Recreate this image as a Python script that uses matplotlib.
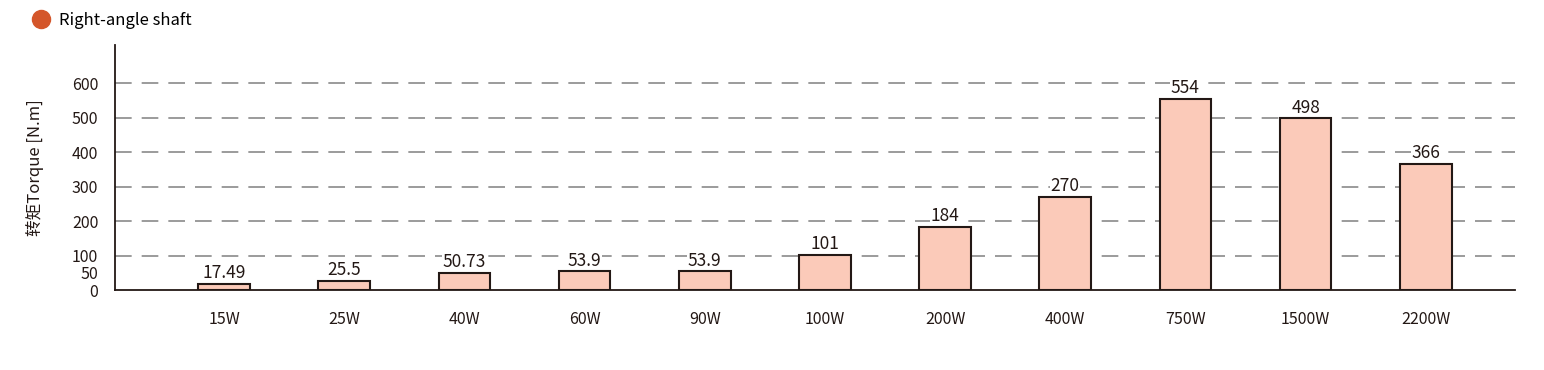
import matplotlib
matplotlib.use("Agg")
import matplotlib.pyplot as plt
from matplotlib.lines import Line2D

# Données du graphique
puissances = ["15W", "25W", "40W", "60W", "90W", "100W", "200W", "400W", "750W", "1500W", "2200W"]
couples = [17.49, 25.5, 50.73, 53.9, 53.9, 101, 184, 270, 554, 498, 366]
etiquettes = ["17.49", "25.5", "50.73", "53.9", "53.9", "101", "184", "270", "554", "498", "366"]
graduations_y = [0, 50, 100, 200, 300, 400, 500, 600]
grille_y = [100, 200, 300, 400, 500, 600]

plt.rcParams["font.family"] = ["Noto Sans CJK SC", "DejaVu Sans"]

fig = plt.figure(figsize=(15.44, 3.70), dpi=100)
ax = fig.add_axes([0.0745, 0.2162, 0.9065, 0.6618])

x = range(len(puissances))
ax.bar(x, couples, width=0.43, color="#fbcab9", edgecolor="#231815", linewidth=1.5, zorder=3)

# étiquettes sous les barres (zorder) mais au-dessus de la grille
for xi, v, t in zip(x, couples, etiquettes):
    ax.text(xi, v + 5, t, ha="center", va="bottom", fontsize=12.5, color="#231815", zorder=2,
            bbox=dict(facecolor="white", edgecolor="none", pad=0.5))

for g in grille_y:
    ax.axhline(g, color="#8a8a8a", linestyle=(0, (10, 6)), linewidth=1.2, zorder=1)

ax.set_xlim(-0.907, 10.74)
ax.set_ylim(0, 710)
ax.set_yticks(graduations_y)
ax.set_yticklabels([str(g) for g in graduations_y], fontsize=11.5, color="#231815")
ax.set_xticks(list(x))
ax.set_xticklabels(puissances, fontsize=11.5, color="#231815")
ax.tick_params(axis="x", length=0, pad=15)
ax.tick_params(axis="y", length=0, pad=12)

for s in ["top", "right"]:
    ax.spines[s].set_visible(False)
for s in ["left", "bottom"]:
    ax.spines[s].set_color("#231815")
    ax.spines[s].set_linewidth(1.3)

ax.set_ylabel("转矩Torque [N.m]", fontsize=12, color="#231815", labelpad=20)

# Légende
poignee = Line2D([], [], marker="o", linestyle="none", markersize=13,
                 markerfacecolor="#d4562a", markeredgecolor="#d4562a")
fig.legend([poignee], ["Right-angle shaft"], loc="upper left", bbox_to_anchor=(0.008, 1.0),
           frameon=False, fontsize=12, handletextpad=0.1, borderaxespad=0.3)

fig.savefig("out.png", dpi=100)
